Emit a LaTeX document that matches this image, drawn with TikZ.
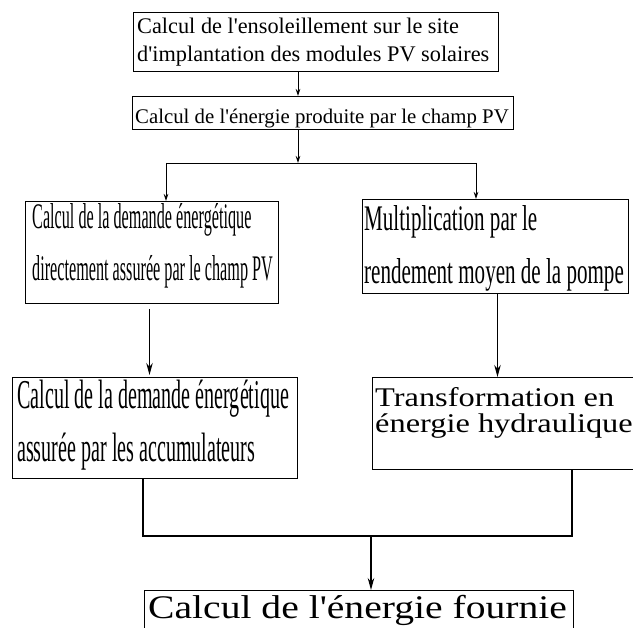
\documentclass[tikz,border=0pt]{standalone}
\usepackage{fontspec}
\setmainfont{Liberation Serif}[Ligatures=TeXOff]
\newfontfamily\fcondA{Liberation Serif}[FakeStretch=0.45,Ligatures=TeXOff]
\newfontfamily\fcondB{Liberation Serif}[FakeStretch=0.585,Ligatures=TeXOff]
\newfontfamily\fcondC{Liberation Serif}[FakeStretch=0.49,Ligatures=TeXOff]
\newfontfamily\fwide{Liberation Serif}[FakeStretch=1.2,Ligatures=TeXOff]
\usetikzlibrary{arrows.meta,calc}
\begin{document}
\begin{tikzpicture}[x=1pt,y=-1pt,
  box/.style={draw,line width=1.0pt,inner sep=0pt,anchor=north west},
  txt/.style={anchor=base west,inner sep=0pt},
  lnA/.style={line width=0.8pt},
  lnB/.style={line width=1.1pt},
  tipS/.style={-{Stealth[length=7pt,width=4.5pt]}},
  tipL/.style={-{Stealth[length=12pt,width=6.5pt]}}]
\useasboundingbox (0,0) rectangle (633,628);
% boxes
\node[box,minimum width=365pt,minimum height=59pt] (b1) at (133,12) {};
\node[box,minimum width=381pt,minimum height=33pt] (b2) at (132,96) {};
\node[box,minimum width=253pt,minimum height=102pt] (b3) at (25,201) {};
\node[box,minimum width=266pt,minimum height=94pt] (b4) at (362,199) {};
\node[box,minimum width=285pt,minimum height=101pt] (b5) at (12,377) {};
\node[box,minimum width=280pt,minimum height=92pt] (b6) at (372,377) {};
\node[box,minimum width=429pt,minimum height=60pt] (b7) at (144,590) {};
% texts
\node[txt,font=\fontsize{22.3}{28}\selectfont] (t1a) at (137,34) {Calcul de l'ensoleillement sur le site};
\node[txt,font=\fontsize{22.3}{28}\selectfont] (t1b) at (137,62) {d'implantation des modules PV solaires};
\node[txt,font=\fontsize{20.8}{25}\selectfont] (t2) at (135,124) {Calcul de l'énergie produite par le champ PV};
\node[txt,font=\fcondA\fontsize{36}{40}\selectfont] (t3a) at (32,229) {Calcul de la demande énergétique};
\node[txt,font=\fcondA\fontsize{36}{40}\selectfont] (t3b) at (32,281) {directement assurée par le champ PV};
\node[txt,font=\fcondB\fontsize{36}{40}\selectfont] (t4a) at (364,231) {Multiplication par le};
\node[txt,font=\fcondB\fontsize{36}{40}\selectfont] (t4b) at (364,284) {rendement moyen de la pompe};
\node[txt,font=\fcondC\fontsize{41}{44}\selectfont] (t5a) at (17,409) {Calcul de la demande énergétique};
\node[txt,font=\fcondC\fontsize{41}{44}\selectfont] (t5b) at (17,462) {assurée par les accumulateurs};
\node[txt,font=\fwide\fontsize{27}{30}\selectfont] (t6a) at (375,407) {Transformation en};
\node[txt,font=\fwide\fontsize{27}{30}\selectfont] (t6b) at (375,433) {énergie hydraulique};
\node[txt,font=\fwide\fontsize{33}{36}\selectfont] (t7) at (148,619) {Calcul de l'énergie fournie};
% junctions
\coordinate (j1) at (298,163);
\coordinate (jl) at (166,163);
\coordinate (jr) at (476,163);
\coordinate (j2) at (371,536);
% connectors
\draw[lnA,tipS] (b1.south -| j1) -- (b2.north -| j1);
\draw[lnA,tipS] (b2.south -| j1) -- (j1);
\draw[lnA] (jl) -- (jr);
\draw[lnA,tipS] (jl) -- (b3.north -| jl);
\draw[lnA,tipS] (jr) -- (b4.north -| jr);
\draw[lnB,tipL] ($(b3.south)+(-2.5,5)$) -- ($(b5.north)+(-5.5,-2)$);
\draw[lnB,tipL] ($(b4.south)+(2,0)$) -- ($(b6.north)+(-15,0)$);
\draw[lnB] ($(b5.south west)+(131,0)$) |- (j2);
\draw[lnB] ($(b6.south west)+(200,0)$) |- (j2);
\draw[lnB,tipL] (j2) -- (b7.north -| j2);
\end{tikzpicture}
\end{document}
